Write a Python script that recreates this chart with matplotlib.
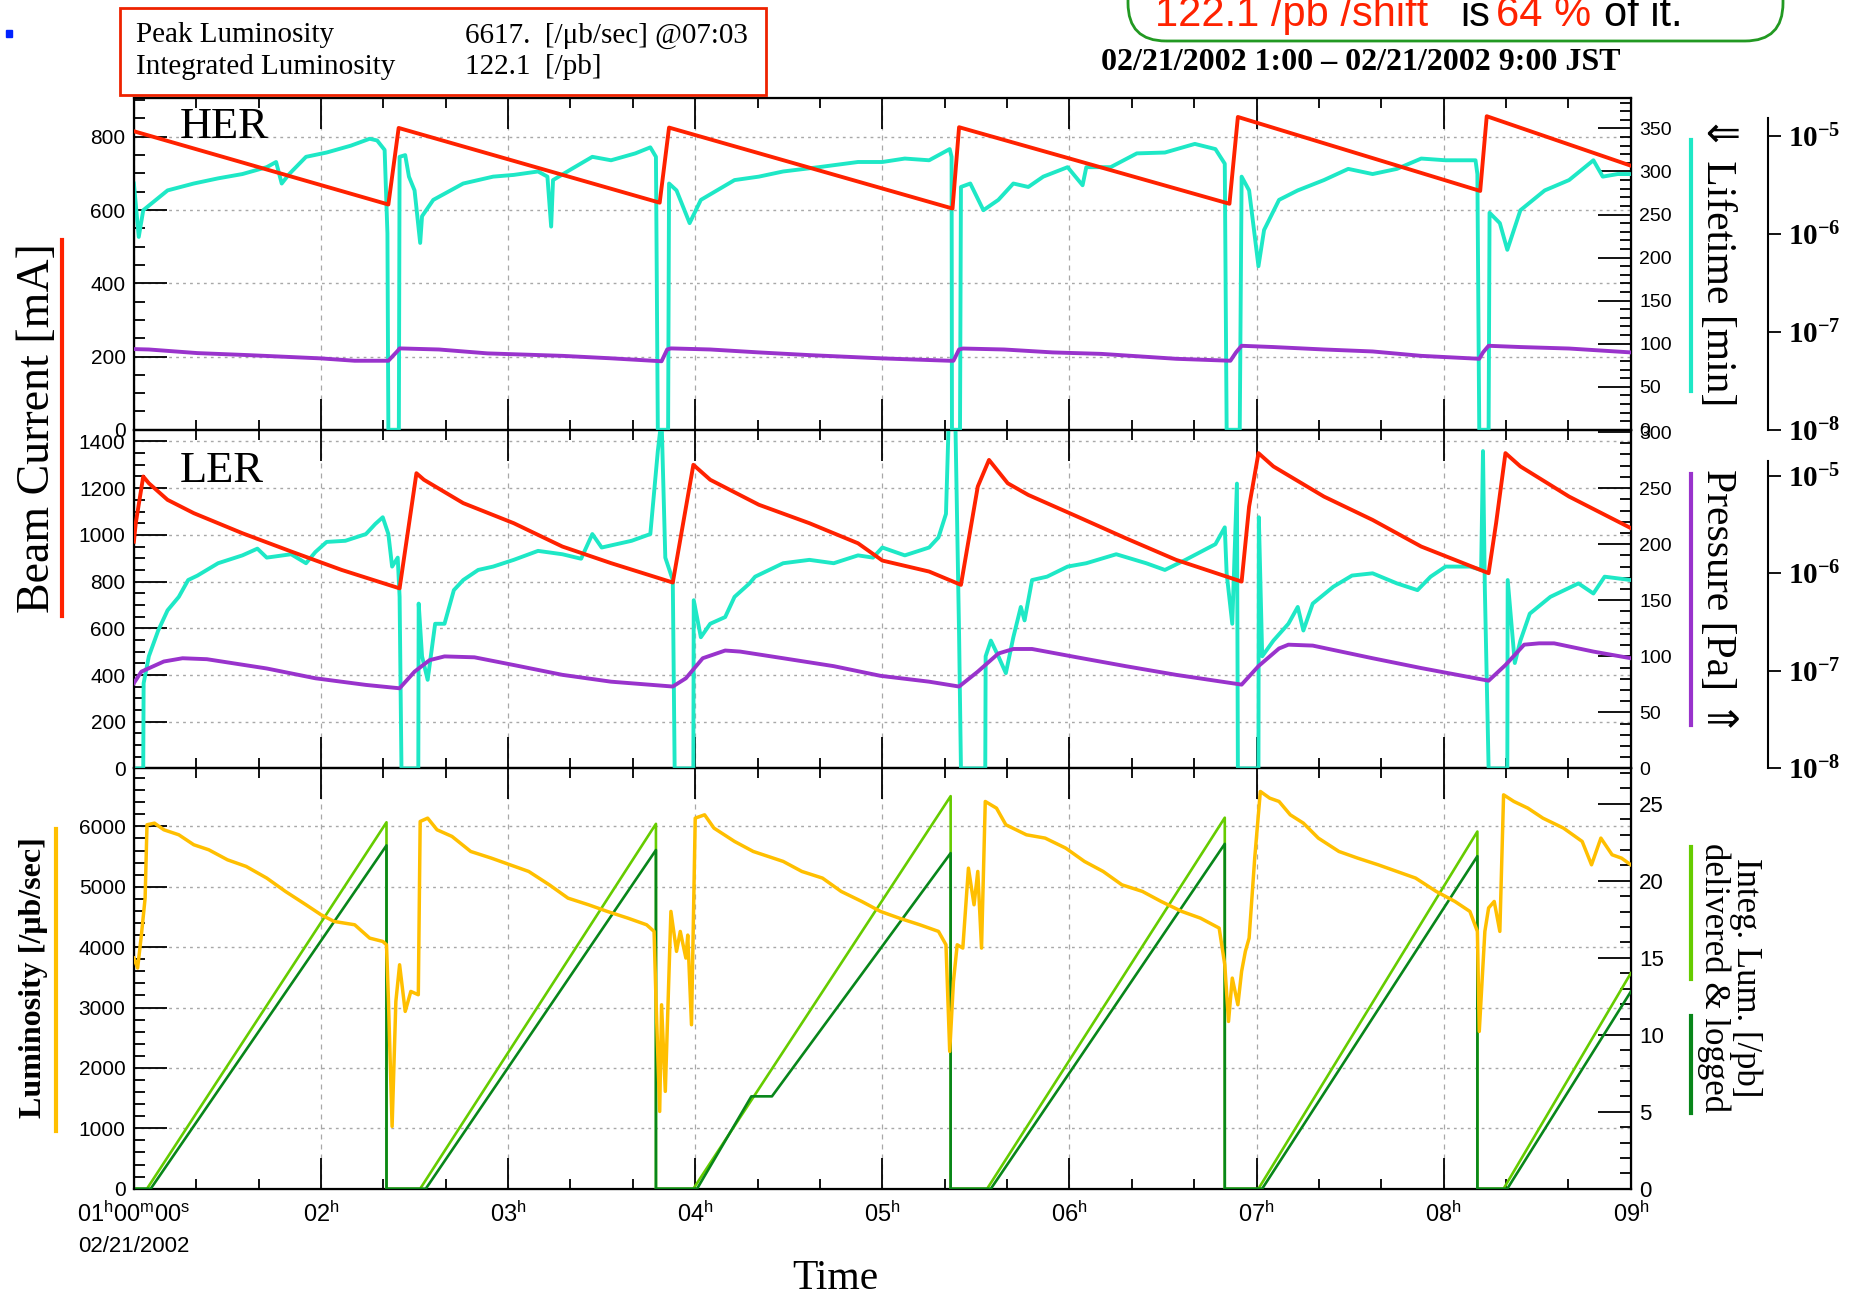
import matplotlib
matplotlib.use("Agg")
import matplotlib.pyplot as plt
from matplotlib.patches import Rectangle, FancyBboxPatch
from matplotlib.lines import Line2D
from matplotlib.ticker import MultipleLocator, FixedLocator, FixedFormatter, NullLocator

plt.rcParams["font.family"] = ["Liberation Sans", "DejaVu Sans"]
plt.rcParams["mathtext.fontset"] = "custom"
plt.rcParams["mathtext.rm"] = "Liberation Sans"
plt.rcParams["mathtext.bf"] = "Liberation Serif:bold"
SERIF = ["Liberation Serif", "DejaVu Sans"]

# ---- time axis (hours, 01h .. 09h) ----
hour_ticks = [1, 2, 3, 4, 5, 6, 7, 8, 9]
hour_labels = [r"$\mathrm{01^h00^m00^s}$", r"$\mathrm{02^h}$", r"$\mathrm{03^h}$",
               r"$\mathrm{04^h}$", r"$\mathrm{05^h}$", r"$\mathrm{06^h}$",
               r"$\mathrm{07^h}$", r"$\mathrm{08^h}$", r"$\mathrm{09^h}$"]

# ---- HER ----
her_cur_t = [1.00, 2.36, 2.415, 3.81, 3.86, 5.375, 5.41, 6.855, 6.90, 8.195, 8.23, 9.00]
her_cur = [815, 615, 824, 620, 825, 604, 826, 617, 854, 652, 856, 721]

her_life_t = [1.00, 1.026, 1.05, 1.18, 1.32, 1.45, 1.58, 1.71, 1.76, 1.79, 1.83, 1.92,
              2.03, 2.16, 2.26, 2.30, 2.34, 2.355, 2.36, 2.416, 2.42, 2.45, 2.47, 2.50,
              2.53, 2.54, 2.60, 2.76, 2.92, 3.03, 3.16, 3.21, 3.23, 3.24, 3.34, 3.45,
              3.55, 3.68, 3.76, 3.79, 3.80, 3.855, 3.86, 3.90, 3.97, 4.03, 4.21, 4.34,
              4.47, 4.66, 4.87, 5.00, 5.12, 5.25, 5.36, 5.37, 5.372, 5.415, 5.42, 5.47,
              5.54, 5.62, 5.70, 5.78, 5.86, 5.99, 6.07, 6.09, 6.22, 6.36, 6.51, 6.67,
              6.78, 6.83, 6.84, 6.91, 6.92, 6.96, 7.01, 7.04, 7.12, 7.22, 7.36, 7.49,
              7.62, 7.75, 7.88, 8.01, 8.17, 8.18, 8.19, 8.24, 8.245, 8.30, 8.34, 8.41,
              8.54, 8.67, 8.80, 8.85, 8.93, 9.00]
her_life = [286, 224, 255, 278, 286, 292, 297, 305, 311, 286, 297, 317,
            322, 330, 338, 336, 325, 228, 0, 0, 317, 319, 294, 278,
            217, 248, 267, 286, 294, 296, 300, 294, 236, 290, 303, 317,
            313, 321, 328, 317, 0, 0, 286, 278, 240, 267, 290, 294,
            300, 305, 311, 311, 315, 313, 326, 317, 0, 0, 282, 286,
            255, 267, 286, 282, 294, 305, 284, 305, 305, 321, 322, 332,
            326, 309, 0, 0, 294, 278, 190, 232, 267, 278, 290, 303,
            297, 303, 315, 313, 313, 297, 0, 0, 252, 240, 209, 255,
            278, 290, 313, 294, 297, 297]

her_pres_t = [1.00, 1.08, 1.34, 1.61, 2.00, 2.18, 2.36, 2.41, 2.42, 2.63, 2.89, 3.29,
              3.55, 3.82, 3.85, 3.87, 4.08, 4.34, 4.61, 4.99, 5.36, 5.38, 5.41, 5.43,
              5.65, 5.91, 6.17, 6.57, 6.86, 6.89, 6.92, 7.09, 7.36, 7.62, 7.88, 8.19,
              8.21, 8.24, 8.41, 8.67, 9.00]
her_pres = [6.67e-8, 6.61e-8, 6.07e-8, 5.79e-8, 5.36e-8, 5.07e-8, 5.07e-8, 6.41e-8,
            6.78e-8, 6.61e-8, 6.03e-8, 5.69e-8, 5.37e-8, 5.01e-8, 6.61e-8, 6.78e-8,
            6.61e-8, 6.17e-8, 5.79e-8, 5.37e-8, 5.07e-8, 5.07e-8, 6.61e-8, 6.76e-8,
            6.61e-8, 6.17e-8, 5.96e-8, 5.31e-8, 5.07e-8, 6.17e-8, 7.21e-8, 7.00e-8,
            6.61e-8, 6.31e-8, 5.69e-8, 5.31e-8, 6.17e-8, 7.21e-8, 7.00e-8, 6.76e-8,
            6.17e-8]

# ---- LER ----
ler_cur_t = [1.00, 1.01, 1.05, 1.08, 1.18, 1.32, 1.58, 1.84, 2.11, 2.42, 2.51, 2.55,
             2.76, 3.03, 3.29, 3.55, 3.88, 3.99, 4.08, 4.34, 4.61, 4.87, 5.00, 5.25,
             5.42, 5.51, 5.57, 5.67, 5.78, 6.04, 6.30, 6.57, 6.92, 6.96, 7.01, 7.09,
             7.36, 7.62, 7.88, 8.24, 8.28, 8.33, 8.41, 8.67, 9.00]
ler_cur = [971, 1050, 1250, 1221, 1150, 1093, 1007, 929, 850, 771, 1264, 1236,
           1136, 1050, 950, 879, 796, 1300, 1236, 1129, 1050, 964, 890, 843,
           786, 1207, 1321, 1221, 1171, 1079, 986, 893, 800, 1121, 1350, 1293,
           1164, 1064, 950, 836, 1050, 1350, 1293, 1164, 1029]

ler_life_t = [1.00, 1.05, 1.052, 1.08, 1.13, 1.18, 1.24, 1.29, 1.34, 1.45, 1.58, 1.66,
              1.71, 1.84, 1.92, 1.97, 2.03, 2.13, 2.24, 2.29, 2.33, 2.36, 2.38, 2.41,
              2.42, 2.43, 2.52, 2.522, 2.54, 2.57, 2.61, 2.66, 2.71, 2.76, 2.84, 2.92,
              3.03, 3.16, 3.29, 3.39, 3.45, 3.50, 3.66, 3.76, 3.80, 3.82, 3.84, 3.88,
              3.89, 3.99, 3.992, 4.03, 4.08, 4.16, 4.21, 4.29, 4.32, 4.47, 4.61, 4.74,
              4.87, 4.95, 5.00, 5.12, 5.25, 5.30, 5.34, 5.355, 5.39, 5.41, 5.42, 5.55,
              5.552, 5.58, 5.62, 5.66, 5.70, 5.74, 5.76, 5.80, 5.88, 5.99, 6.09, 6.25,
              6.41, 6.51, 6.62, 6.78, 6.83, 6.84, 6.87, 6.895, 6.90, 7.01, 7.012, 7.03,
              7.09, 7.17, 7.22, 7.25, 7.30, 7.41, 7.51, 7.62, 7.75, 7.86, 7.93, 8.01,
              8.14, 8.20, 8.21, 8.22, 8.24, 8.34, 8.342, 8.38, 8.41, 8.46, 8.57, 8.72,
              8.80, 8.86, 9.00]
ler_life = [0, 0, 76, 100, 123, 141, 153, 168, 172, 183, 190, 196,
            188, 191, 183, 193, 202, 203, 209, 218, 224, 209, 180, 188,
            153, 0, 0, 147, 100, 79, 129, 129, 159, 168, 177, 180,
            186, 194, 191, 187, 209, 197, 203, 209, 283, 312, 188, 168,
            0, 0, 150, 117, 129, 135, 153, 165, 171, 183, 186, 183,
            190, 188, 197, 190, 197, 206, 227, 312, 312, 120, 0, 0,
            100, 114, 100, 85, 117, 144, 132, 168, 171, 180, 183, 191,
            183, 177, 186, 200, 215, 174, 129, 254, 0, 0, 224, 100,
            114, 129, 144, 123, 147, 162, 172, 174, 165, 159, 171, 180,
            180, 177, 283, 159, 0, 0, 168, 94, 114, 138, 153, 165,
            156, 171, 168]

ler_pres_t = [1.00, 1.04, 1.16, 1.26, 1.39, 1.71, 1.97, 2.24, 2.42, 2.50, 2.58, 2.66,
              2.82, 3.03, 3.29, 3.55, 3.88, 3.95, 4.04, 4.16, 4.24, 4.47, 4.74, 4.99,
              5.25, 5.41, 5.51, 5.62, 5.70, 5.80, 6.04, 6.30, 6.57, 6.92, 7.01, 7.12,
              7.17, 7.30, 7.62, 7.88, 8.24, 8.33, 8.43, 8.51, 8.59, 8.80, 9.00]
ler_pres = [7.50e-8, 9.84e-8, 1.25e-7, 1.35e-7, 1.32e-7, 1.06e-7, 8.41e-8, 7.19e-8,
            6.64e-8, 9.84e-8, 1.29e-7, 1.41e-7, 1.38e-7, 1.15e-7, 9.12e-8, 7.76e-8,
            6.92e-8, 8.41e-8, 1.35e-7, 1.62e-7, 1.58e-7, 1.35e-7, 1.12e-7, 8.91e-8,
            7.76e-8, 6.92e-8, 9.84e-8, 1.51e-7, 1.68e-7, 1.68e-7, 1.38e-7, 1.12e-7,
            9.12e-8, 7.24e-8, 1.12e-7, 1.70e-7, 1.86e-7, 1.82e-7, 1.35e-7, 1.07e-7,
            7.94e-8, 1.15e-7, 1.86e-7, 1.92e-7, 1.92e-7, 1.58e-7, 1.35e-7]

# ---- luminosity ----
lum_t = [1.00, 1.02, 1.04, 1.06, 1.07, 1.11, 1.16, 1.24, 1.32, 1.40, 1.50, 1.60,
         1.71, 1.81, 1.92, 2.00, 2.07, 2.18, 2.26, 2.33, 2.35, 2.36, 2.38, 2.40,
         2.42, 2.45, 2.48, 2.52, 2.53, 2.57, 2.62, 2.70, 2.80, 2.91, 3.01, 3.11,
         3.22, 3.32, 3.43, 3.53, 3.64, 3.74, 3.78, 3.79, 3.81, 3.82, 3.84, 3.87,
         3.90, 3.92, 3.95, 3.96, 3.98, 4.00, 4.05, 4.10, 4.21, 4.31, 4.47, 4.57,
         4.68, 4.78, 4.89, 4.99, 5.09, 5.20, 5.30, 5.34, 5.36, 5.38, 5.40, 5.43,
         5.46, 5.49, 5.51, 5.53, 5.55, 5.61, 5.66, 5.77, 5.87, 5.98, 6.08, 6.18,
         6.28, 6.39, 6.49, 6.60, 6.70, 6.80, 6.83, 6.85, 6.87, 6.90, 6.92, 6.94,
         6.96, 6.99, 7.02, 7.07, 7.12, 7.18, 7.25, 7.33, 7.44, 7.54, 7.65, 7.75,
         7.85, 7.96, 8.06, 8.14, 8.18, 8.19, 8.22, 8.24, 8.27, 8.30, 8.32, 8.375,
         8.45, 8.53, 8.64, 8.74, 8.79, 8.84, 8.90, 8.95, 9.00]
lum = [3819, 3654, 4200, 4812, 6027, 6054, 5944, 5861, 5696, 5613, 5447, 5337,
       5144, 4923, 4702, 4537, 4426, 4371, 4150, 4095, 4040, 3157, 1032, 3100,
       3709, 2936, 3267, 3212, 6082, 6137, 5944, 5834, 5585, 5475, 5364, 5254,
       5033, 4812, 4702, 4592, 4481, 4371, 4261, 3157, 1280, 3046, 1612, 4592,
       3930, 4261, 3819, 4200, 2715, 6137, 6192, 5972, 5751, 5585, 5420, 5254,
       5144, 4923, 4757, 4592, 4481, 4371, 4261, 4040, 2274, 3433, 4040, 3985,
       5309, 4702, 5254, 3985, 6413, 6302, 6027, 5861, 5806, 5640, 5420, 5254,
       5033, 4923, 4757, 4592, 4481, 4316, 3709, 2770, 3488, 3046, 3600, 3930,
       4150, 5475, 6579, 6468, 6413, 6192, 6054, 5806, 5585, 5475, 5364, 5254,
       5144, 4923, 4757, 4592, 4261, 2605, 4261, 4650, 4757, 4261, 6523, 6413,
       6302, 6137, 5972, 5751, 5364, 5806, 5530, 5475, 5364]

deliv_t = [1.00, 1.07, 2.35, 2.35, 2.53, 3.79, 3.79, 3.99, 5.365, 5.365, 5.56, 6.83,
           6.83, 7.01, 8.18, 8.18, 8.32, 9.00]
deliv = [0, 0, 23.8, 0, 0, 23.7, 0, 0, 25.5, 0, 0, 24.1, 0, 0, 23.2, 0, 0, 14.0]
logged_t = [1.00, 1.09, 2.35, 2.35, 2.56, 3.79, 3.79, 4.01, 4.30, 4.41, 5.365, 5.365,
            5.58, 6.83, 6.83, 7.03, 8.18, 8.18, 8.34, 9.00]
logged = [0, 0, 22.3, 0, 0, 22.0, 0, 0, 6.0, 6.0, 21.8, 0, 0, 22.4, 0, 0, 21.6, 0, 0, 12.8]

RED = "#ff2200"
CYAN = "#1ee8c6"
PURPLE = "#9933cc"
YELLOW = "#ffbf00"
LIME = "#66cc00"
DKGREEN = "#08861a"
GRID = "#a8a8a8"

fig = plt.figure(figsize=(18.57, 13), dpi=100)
L, W = 0.0721, 0.8061
ax_her = fig.add_axes([L, 0.6694, W, 0.2550])
ax_ler = fig.add_axes([L, 0.4089, W, 0.2605])
ax_lum = fig.add_axes([L, 0.0856, W, 0.3233])


def style_frame(ax, ymaj, ymin, show_x=False):
    ax.set_xlim(1, 9)
    ax.xaxis.set_major_locator(FixedLocator(hour_ticks))
    ax.xaxis.set_minor_locator(MultipleLocator(1 / 3))
    ax.tick_params(axis="x", which="both", direction="in", top=True, bottom=True)
    ax.tick_params(axis="x", which="major", length=22, width=1.3)
    ax.tick_params(axis="x", which="minor", length=7, width=1.3)
    ax.yaxis.set_major_locator(MultipleLocator(ymaj))
    ax.yaxis.set_minor_locator(MultipleLocator(ymin))
    ax.tick_params(axis="y", which="both", direction="in", left=True, right=False)
    ax.tick_params(axis="y", which="major", length=24, width=1.3, labelsize=15, pad=6)
    ax.tick_params(axis="y", which="minor", length=8, width=1.3)
    ax.grid(True, axis="x", which="major", ls=(0, (4, 4)), color=GRID, lw=0.9)
    ax.grid(True, axis="y", which="major", ls=(0, (2, 3)), color=GRID, lw=1.0)
    for s in ax.spines.values():
        s.set_linewidth(1.6)
    if show_x:
        ax.xaxis.set_major_formatter(FixedFormatter(hour_labels))
        ax.tick_params(axis="x", which="major", labelsize=17, pad=9)
    else:
        ax.tick_params(axis="x", labelbottom=False)


def right_axis(ax, top, ymaj, ymin):
    tw = ax.twinx()
    tw.set_ylim(0, top)
    tw.yaxis.set_major_locator(MultipleLocator(ymaj))
    tw.yaxis.set_minor_locator(MultipleLocator(ymin))
    tw.tick_params(axis="y", which="both", direction="in")
    tw.tick_params(axis="y", which="major", length=24, width=1.3, labelsize=14, pad=6)
    tw.tick_params(axis="y", which="minor", length=8, width=1.3)
    tw.set_zorder(ax.get_zorder() + 1)
    return tw


def pressure_axis(ax, top_log, spine_top_log):
    pa = ax.twinx()
    pa.set_yscale("log")
    pa.set_ylim(1e-8, 10 ** top_log)
    for s in ["top", "bottom", "left"]:
        pa.spines[s].set_visible(False)
    pa.spines["right"].set_position(("axes", 1.0918))
    pa.spines["right"].set_bounds(1e-8, 10 ** spine_top_log)
    pa.spines["right"].set_linewidth(1.5)
    pa.yaxis.set_major_locator(FixedLocator([1e-8, 1e-7, 1e-6, 1e-5]))
    pa.yaxis.set_minor_locator(NullLocator())
    pa.yaxis.set_major_formatter(FixedFormatter([r"$\mathbf{10^{-8}}$", r"$\mathbf{10^{-7}}$",
                                                 r"$\mathbf{10^{-6}}$", r"$\mathbf{10^{-5}}$"]))
    pa.tick_params(axis="y", direction="out", length=9, width=1.3, labelsize=21, pad=5)
    pa.set_zorder(ax.get_zorder() + 2)
    return pa


def overlay(ax, top):
    ov = ax.twinx()
    ov.set_ylim(0, top)
    ov.set_axis_off()
    ov.set_zorder(ax.get_zorder() + 3)
    return ov


# HER panel
style_frame(ax_her, 200, 50)
ax_her.set_ylim(0, 905)
her_lt = right_axis(ax_her, 385, 50, 10)
her_lt.plot(her_life_t, her_life, color=CYAN, lw=2.8)
her_p = pressure_axis(ax_her, -4.614, -4.82)
her_p.plot(her_pres_t, her_pres, color=PURPLE, lw=2.8)
her_ov = overlay(ax_her, 905)
her_ov.plot(her_cur_t, her_cur, color=RED, lw=2.8)

# LER panel
style_frame(ax_ler, 200, 50)
ax_ler.set_ylim(0, 1450)
ler_lt = right_axis(ax_ler, 302, 50, 10)
ler_lt.plot(ler_life_t, ler_life, color=CYAN, lw=2.8)
ler_p = pressure_axis(ax_ler, -4.526, -4.85)
ler_p.plot(ler_pres_t, ler_pres, color=PURPLE, lw=2.8)
ler_ov = overlay(ax_ler, 1450)
ler_ov.plot(ler_cur_t, ler_cur, color=RED, lw=2.8)

# luminosity panel
style_frame(ax_lum, 1000, 200, show_x=True)
ax_lum.set_ylim(0, 6960)
lum_r = right_axis(ax_lum, 27.3, 5, 1)
lum_r.tick_params(axis="y", which="major", labelsize=16)
lum_r.plot(deliv_t, deliv, color=LIME, lw=1.9)
lum_r.plot(logged_t, logged, color=DKGREEN, lw=1.9)
lum_ov = overlay(ax_lum, 6960)
lum_ov.plot(lum_t, lum, color=YELLOW, lw=2.5)

# panel names and axis titles
fig.text(0.0969, 0.9026, "HER", fontsize=32, family=SERIF, va="center")
fig.text(0.0969, 0.6375, "LER", fontsize=32, family=SERIF, va="center")
fig.text(0.0204, 0.6703, "Beam Current [mA]", fontsize=33, family=SERIF,
         rotation=90, ha="center", va="center")
fig.text(0.0179, 0.2477, "Luminosity [/\u03bcb/sec]", fontsize=23, family=SERIF,
         fontweight="bold", rotation=90, ha="center", va="center")
fig.text(0.9247, 0.7996, "\u21d3 Lifetime [min]", fontsize=30, family=SERIF,
         rotation=-90, ha="center", va="center")
fig.text(0.9247, 0.5364, "Pressure [Pa] \u21d1", fontsize=30, family=SERIF,
         rotation=-90, ha="center", va="center")
fig.text(0.9315, 0.2480, "Integ. Lum. [/pb]\ndelivered & logged", fontsize=25,
         family=SERIF, rotation=-90, ha="center", va="center", linespacing=0.95)
fig.text(0.4496, 0.0164, "Time", fontsize=30, family=SERIF, ha="center", va="center")
fig.text(0.0721, 0.041, "02/21/2002", fontsize=16, ha="center", va="center")

# coloured key bars
for x, y0, y1, c in [(0.0332, 0.5264, 0.8151, RED), (0.0300, 0.1302, 0.3625, YELLOW),
                     (0.9107, 0.6995, 0.8925, CYAN), (0.9107, 0.4426, 0.6357, PURPLE),
                     (0.9107, 0.2468, 0.3488, LIME), (0.9107, 0.1439, 0.2186, DKGREEN)]:
    fig.add_artist(Line2D([x, x], [y0, y1], color=c, lw=3, transform=fig.transFigure))

# header box
fig.add_artist(Rectangle((0.0032, 0.9718), 0.0035, 0.0055, color="#0022ff",
                         transform=fig.transFigure))
fig.add_artist(Rectangle((0.0644, 0.9271), 0.3482, 0.0665, fill=False, ec="#ee2200",
                         lw=2, transform=fig.transFigure))
fig.text(0.0733, 0.9727, "Peak Luminosity", fontsize=21, family=SERIF, va="center")
fig.text(0.2506, 0.9727, "6617.  [/\u03bcb/sec] @07:03", fontsize=21, family=SERIF, va="center")
fig.text(0.0733, 0.9481, "Integrated Luminosity", fontsize=21, family=SERIF, va="center")
fig.text(0.2506, 0.9481, "122.1  [/pb]", fontsize=21, family=SERIF, va="center")

# shift summary bubble (cut by the top edge)
fig.add_artist(FancyBboxPatch((11.28, 12.59), 6.55, 1.2,
                              boxstyle="round,pad=0,rounding_size=0.38",
                              fc="none", ec="#229922", lw=2,
                              transform=fig.dpi_scale_trans))
for x, s, c in [(0.6218, "122.1 /pb /shift", "#ff2200"), (0.7864, "is", "black"),
                (0.8055, "64 %", "#ff2200"), (0.8640, "of it.", "black")]:
    fig.text(x, 0.980, s, fontsize=30, color=c, va="baseline")
fig.text(0.7328, 0.9517, "02/21/2002 1:00 \u2013 02/21/2002 9:00 JST", fontsize=23,
         family=SERIF, fontweight="bold", ha="center", va="center")

fig.savefig("out.png", dpi=100)
